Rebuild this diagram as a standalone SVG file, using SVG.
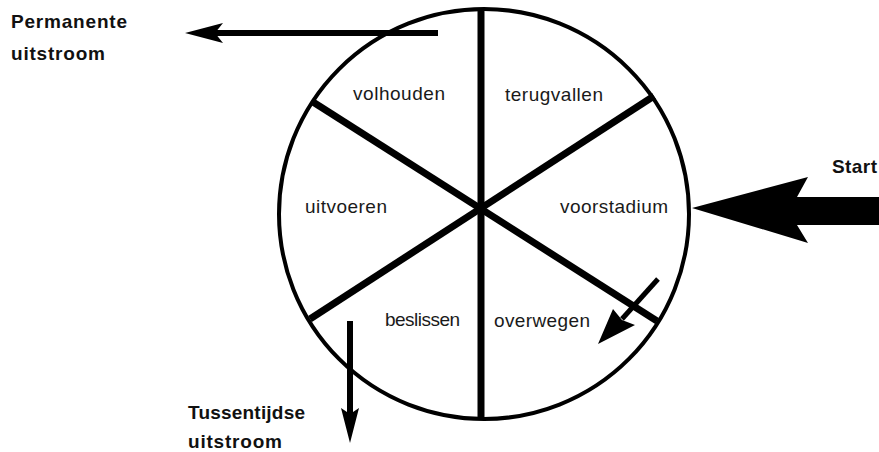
<svg xmlns="http://www.w3.org/2000/svg" width="879" height="452" viewBox="0 0 879 452">
<style>
.lbl{font-family:"Liberation Sans",Arial,sans-serif;font-size:19px;fill:#1a1a1a}
.bold{font-family:"Liberation Sans",Arial,sans-serif;font-size:19px;font-weight:bold;fill:#111}
.spoke{stroke:#000;stroke-width:7;fill:none}
.shaft{stroke:#000;fill:none}
</style>
<rect width="879" height="452" fill="#fff"/>
<g id="wheel">
<circle cx="484" cy="214" r="205" fill="none" stroke="#000" stroke-width="4"/>
<line class="spoke" x1="481" y1="11" x2="481" y2="418"/>
<line class="spoke" x1="313" y1="102" x2="657" y2="321"/>
<line class="spoke" x1="654" y1="96" x2="310" y2="319"/>
</g>
<g id="node-volhouden"><text class="lbl" x="353" y="100" textLength="92" lengthAdjust="spacing">volhouden</text></g>
<g id="node-terugvallen"><text class="lbl" x="505" y="101" textLength="98" lengthAdjust="spacing">terugvallen</text></g>
<g id="node-uitvoeren"><text class="lbl" x="305" y="213" textLength="82" lengthAdjust="spacing">uitvoeren</text></g>
<g id="node-voorstadium"><text class="lbl" x="560" y="213" textLength="108" lengthAdjust="spacing">voorstadium</text></g>
<g id="node-beslissen"><text class="lbl" x="385" y="326" textLength="75" lengthAdjust="spacing">beslissen</text></g>
<g id="node-overwegen"><text class="lbl" x="494" y="327" textLength="96" lengthAdjust="spacing">overwegen</text></g>
<g id="node-permanente">
<text class="bold" x="11" y="28" textLength="116" lengthAdjust="spacing">Permanente</text>
<text class="bold" x="11" y="60" textLength="94" lengthAdjust="spacing">uitstroom</text>
</g>
<g id="node-start"><text class="bold" x="832" y="173" textLength="45" lengthAdjust="spacing">Start</text></g>
<g id="node-tussentijdse">
<text class="bold" x="188" y="419" textLength="117" lengthAdjust="spacing">Tussentijdse</text>
<text class="bold" x="188" y="448" textLength="94" lengthAdjust="spacing">uitstroom</text>
</g>
<g id="connectors">
<line class="shaft" x1="438" y1="33" x2="214" y2="33" stroke-width="6"/>
<polygon points="185,33 223,23 215,33 223,43" fill="#000"/>
<polygon points="692,208 808,177 797,197 879,197 879,225 797,225 808,243" fill="#000"/>
<line class="shaft" x1="658" y1="279" x2="622" y2="319" stroke-width="5"/>
<polygon points="598,344 613,309 622,320 635,325" fill="#000"/>
<line class="shaft" x1="350" y1="321" x2="350" y2="414" stroke-width="6"/>
<polygon points="350,443 341,408 350,414 359,408" fill="#000"/>
</g>
</svg>
